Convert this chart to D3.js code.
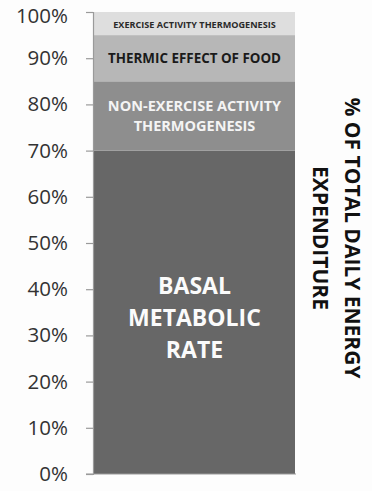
<!DOCTYPE html>
<html>
<head>
<meta charset="utf-8">
<script src="https://cdn.jsdelivr.net/npm/d3@7"></script>
<style>
  body { margin: 0; background: #fdfdfd; }
  svg { display: block; }
</style>
</head>
<body>
<div id="chart"></div>
<script>
// stacked components of total daily energy expenditure (percent)
let segments = ["BMR", "NEAT", "TEF", "EAT"];
let values = [70, 15, 10, 5];
let segmentLabels = [
  ["BASAL", "METABOLIC", "RATE"],
  ["NON-EXERCISE ACTIVITY", "THERMOGENESIS"],
  ["THERMIC EFFECT OF FOOD"],
  ["EXERCISE ACTIVITY THERMOGENESIS"]
];
let tickValues = [0, 10, 20, 30, 40, 50, 60, 70, 80, 90, 100];
let axisTitle = ["% OF TOTAL DAILY ENERGY", "EXPENDITURE"];

let width = 372;
let height = 491;

let fills = ["#676767", "#8e8e8e", "#b7b7b7", "#dedede"];
let textColors = ["#fbfbfb", "#f4f4f4", "#1a1a1a", "#2a2a2a"];
let fontSizes = [23, 14.5, 13.4, 9.1];
let lineHeights = [32, 20, 14, 9];

let svg = d3.select("#chart").append("svg")
  .attr("width", width)
  .attr("height", height);

let y = d3.scaleLinear()
  .domain([0, 100])
  .range([474, 12]);

let x = d3.scaleBand()
  .domain(["TDEE"])
  .range([94, 295])
  .padding(0);

// stack the values
let stacked = [];
let acc = 0;
values.forEach(function (v, i) {
  stacked.push({ key: segments[i], y0: acc, y1: acc + v, i: i });
  acc += v;
});

svg.selectAll("rect.seg")
  .data(stacked)
  .enter()
  .append("rect")
  .attr("class", "seg")
  .attr("x", x("TDEE"))
  .attr("width", x.bandwidth())
  .attr("y", function (d) { return y(d.y1); })
  .attr("height", function (d) { return y(d.y0) - y(d.y1); })
  .style("fill", function (d) { return fills[d.i]; });

// labels inside segments
stacked.forEach(function (d) {
  let lines = segmentLabels[d.i];
  let cx = x("TDEE") + x.bandwidth() / 2;
  let cy = (y(d.y0) + y(d.y1)) / 2;
  if (d.i === 0) cy = y(34);
  if (d.i === 1) cy = y(77.8);
  let lh = lineHeights[d.i];
  let start = cy - (lines.length - 1) * lh / 2;
  let t = svg.append("text")
    .attr("text-anchor", "middle")
    .attr("dominant-baseline", "central")
    .style("font-family", "'Open Sans', sans-serif")
    .style("font-weight", "bold")
    .style("font-size", fontSizes[d.i] + "px")
    .style("fill", textColors[d.i]);
  lines.forEach(function (line, k) {
    t.append("tspan")
      .attr("x", cx)
      .attr("y", start + k * lh)
      .text(line);
  });
});

// y axis
let yAxis = d3.axisLeft(y)
  .tickValues(tickValues)
  .tickFormat(function (d) { return d + "%"; })
  .tickSize(7)
  .tickPadding(18);

let gAxis = svg.append("g")
  .attr("transform", "translate(93,0)")
  .call(yAxis);

gAxis.select(".domain").attr("stroke", "#9a9a9a").attr("stroke-width", 1.2);
gAxis.selectAll(".tick line").attr("stroke", "#9a9a9a").attr("stroke-width", 1.2);
gAxis.selectAll(".tick text")
  .style("font-family", "'Open Sans', sans-serif")
  .style("font-size", "20.5px")
  .style("fill", "#333333");

// keep the top label inside the picture
gAxis.selectAll(".tick text")
  .filter(function (d) { return d === 100; })
  .attr("y", 3.5);

// baseline
svg.append("line")
  .attr("x1", 86).attr("x2", 296)
  .attr("y1", y(0)).attr("y2", y(0))
  .attr("stroke", "#9a9a9a")
  .attr("stroke-width", 1.2);

// rotated axis title on the right
let title = svg.append("text")
  .attr("transform", "translate(337,238) rotate(90)")
  .attr("text-anchor", "middle")
  .style("font-family", "'Open Sans', sans-serif")
  .style("font-weight", "bold")
  .style("font-size", "21px")
  .style("fill", "#111111");

axisTitle.forEach(function (line, k) {
  title.append("tspan")
    .attr("x", 0)
    .attr("y", k * 32 - 16)
    .attr("dominant-baseline", "central")
    .text(line);
});
</script>
</body>
</html>
